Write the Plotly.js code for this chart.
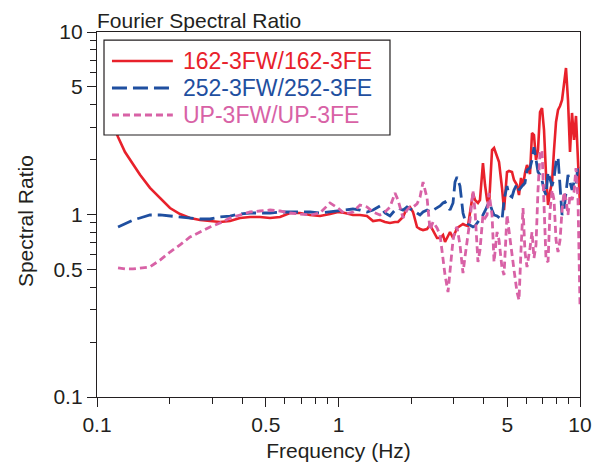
<!DOCTYPE html>
<html><head><meta charset="utf-8">
<script src="https://cdn.plot.ly/plotly-3.0.1.min.js"></script>
<style>html,body{margin:0;padding:0;background:#fff;}#chart{width:603px;height:464px;}</style>
</head><body><div id="chart"></div>
<script>
const freq = [0.1165,0.1222,0.1306,0.141,0.1507,0.1657,0.1824,0.2006,0.2207,0.2428,0.2671,0.2938,0.3231,0.3554,0.391,0.4301,0.4731,0.5205,0.5726,0.6299,0.6929,0.7622,0.8385,0.9223,0.9952,1.064,1.148,1.227,1.312,1.39,1.485,1.558,1.634,1.714,1.764,
1.85,1.921,1.977,2.035,2.114,2.176,2.239,2.326,2.393,2.463,2.559,2.633,2.709,2.761,2.841,2.896,2.98,3.037,3.095,3.185,3.277,3.34,3.437,3.503,3.605,3.674,3.78,3.853,3.964,4.044,4.122,4.201,4.323,4.406,4.534,4.621,4.754,4.846,4.986,5.081,5.229,5.33,5.484,5.59,5.698,5.808,5.918,6.033,6.209,6.328,6.448,6.574,6.701,6.831,6.962,7.096,7.234,7.373,7.515,7.66,7.806,7.957,8.11,8.267,8.427,8.587,8.75,8.919,9.091,9.267,9.445,9.625,9.811,10.0];

const ratio162 = [3.13,2.66,2.20,1.87,1.65,1.40,1.23,1.085,1.006,0.957,0.933,0.921,0.910,0.921,0.957,0.969,0.969,0.957,0.969,1.019,1.019,0.994,0.981,1.006,1.032,1.019,0.994,0.994,0.981,0.921,0.933,0.910,0.899,0.910,0.910,
0.969,1.085,1.099,1.032,0.854,0.832,0.822,0.832,0.876,0.812,0.743,0.743,0.772,0.707,0.762,0.802,0.743,0.792,0.843,0.865,0.887,0.876,0.865,1.019,1.311,1.201,1.157,1.201,1.915,1.451,1.201,1.127,2.256,2.314,2.065,1.94,1.397,1.058,1.709,1.731,1.709,1.545,1.451,1.279,1.585,1.433,1.688,1.867,1.667,2.797,2.727,1.989,2.256,3.644,3.832,2.904,1.646,1.127,1.328,1.507,2.256,3.213,3.737,3.93,4.24,5.123,6.35,4.24,2.2,3.6,2.56,3.466,2.04,1.127];

const ratio252 = [null,0.854,0.887,0.933,0.957,0.994,0.994,0.981,0.969,0.957,0.945,0.945,0.969,0.981,1.006,1.019,1.019,1.019,1.032,1.032,1.032,1.032,1.019,1.032,1.045,1.058,1.072,1.058,1.032,1.058,1.113,1.019,0.981,1.058,1.085,
1.058,1.099,1.072,1.058,1.019,0.994,1.032,1.058,1.032,1.058,1.085,1.113,1.157,1.172,1.099,1.058,1.157,1.507,1.605,1.433,1.019,0.933,0.887,0.876,0.854,0.865,0.910,0.933,0.994,1.045,1.099,1.172,1.058,0.994,0.981,0.957,0.933,1.201,1.433,1.279,1.247,1.362,1.469,1.362,1.415,1.451,1.487,1.753,1.798,1.989,2.34,1.989,1.709,1.646,1.545,1.362,1.279,1.709,1.545,1.433,1.585,1.94,2.065,1.362,0.994,1.058,1.279,1.646,1.507,1.362,1.507,1.451,1.867,1.82];

const ratioUP = [null,0.510,0.503,0.503,0.510,0.516,0.563,0.623,0.681,0.753,0.802,0.854,0.899,0.957,0.994,1.032,1.045,1.058,1.045,1.019,1.006,0.994,1.019,1.157,1.085,1.006,1.032,1.127,1.099,1.032,0.994,1.032,1.099,1.311,1.201,
0.957,1.058,1.099,1.099,1.142,1.247,1.507,1.232,0.822,0.910,0.843,0.772,0.549,0.466,0.376,0.497,0.725,0.822,0.854,0.681,0.478,0.585,0.772,0.933,1.345,1.058,0.549,0.639,0.994,0.957,0.994,1.311,0.994,0.549,0.802,0.725,0.510,0.466,0.994,0.802,0.585,0.497,0.376,0.340,0.639,1.085,0.623,0.516,0.655,0.802,0.578,0.681,1.362,2.17,2.256,1.201,0.563,0.549,1.058,1.362,1.201,0.725,0.623,0.725,1.058,1.328,1.201,0.994,1.279,1.201,1.328,1.798,1.201,0.319];

const seriesNames = ['162-3FW/162-3FE','252-3FW/252-3FE','UP-3FW/UP-3FE'];
const seriesColors = ['#e8212b','#1f4fa0','#d862a6'];
const majorTicks = [0.1,0.5,1,5,10];
const majorLabels = ['0.1','0.5','1','5','10'];
const minorTicks = [0.2,0.3,0.4,0.6,0.7,0.8,0.9,2,3,4,6,7,8,9];

const ink = '#231f20';
const fontFam = '"Liberation Sans", Arial, Helvetica, sans-serif';

const traces = [
  {x:freq, y:ratio162, name:seriesNames[0], mode:'lines', line:{color:seriesColors[0], width:2.6}},
  {x:freq, y:ratio252, name:seriesNames[1], mode:'lines', line:{color:seriesColors[1], width:2.8, dash:'15px,6px'}},
  {x:freq, y:ratioUP, name:seriesNames[2], mode:'lines', line:{color:seriesColors[2], width:2.8, dash:'7px,4px'}}
];

function axis(titleText, standoff){
  return {
    type:'log', range:[-1,1], tickmode:'array', tickvals:majorTicks, ticktext:majorLabels,
    ticks:'outside', ticklen:9, tickwidth:1, tickcolor:ink,
    minor:{tickmode:'array', tickvals:minorTicks, ticks:'outside', ticklen:6, tickwidth:1, tickcolor:ink, showgrid:false},
    showline:true, linecolor:ink, linewidth:1.2, mirror:true,
    showgrid:false, zeroline:false,
    tickfont:{family:fontFam, size:21, color:ink},
    title:{text:titleText, font:{family:fontFam, size:21, color:ink}, standoff:standoff}
  };
}

const legRows = [0.9205, 0.8466, 0.7726];
const legDash = ['solid','15px,6px','7px,4px'];
const shapes = [
  {type:'rect', xref:'paper', yref:'paper', x0:0.0145, x1:0.6066, y0:0.7178, y1:0.978, line:{color:ink, width:1.2}, fillcolor:'#ffffff', layer:'above'}
];
const annotations = [
  {text:'Fourier Spectral Ratio', xref:'paper', yref:'paper', x:0, y:1, xanchor:'left', yanchor:'bottom', xshift:-2, yshift:-2, showarrow:false, font:{family:fontFam, size:21, color:ink}},
  {text:'Spectral Ratio', xref:'paper', yref:'paper', x:0, y:0.482, xanchor:'center', yanchor:'middle', xshift:-72, textangle:-90, showarrow:false, font:{family:fontFam, size:21, color:ink}}
];
seriesNames.forEach((n,i)=>{
  shapes.push({type:'line', xref:'paper', yref:'paper', x0:0.031, x1:0.157, y0:legRows[i], y1:legRows[i], line:{color:seriesColors[i], width:traces[i].line.width, dash:legDash[i]}, layer:'above'});
  annotations.push({text:n, xref:'paper', yref:'paper', x:0.174, y:legRows[i], xanchor:'left', yanchor:'middle', showarrow:false, font:{family:fontFam, size:23, color:seriesColors[i]}});
});

const layout = {
  width:603, height:464,
  margin:{l:97, r:23, t:32, b:67, pad:0},
  paper_bgcolor:'#ffffff', plot_bgcolor:'#ffffff',
  font:{family:fontFam, size:21, color:ink},
  showlegend:false,
  xaxis:axis('Frequency (Hz)', 7),
  yaxis:axis('', 12),
  shapes:shapes,
  annotations:annotations
};

Plotly.newPlot('chart', traces, layout, {displayModeBar:false, staticPlot:true});
</script>
</body></html>
